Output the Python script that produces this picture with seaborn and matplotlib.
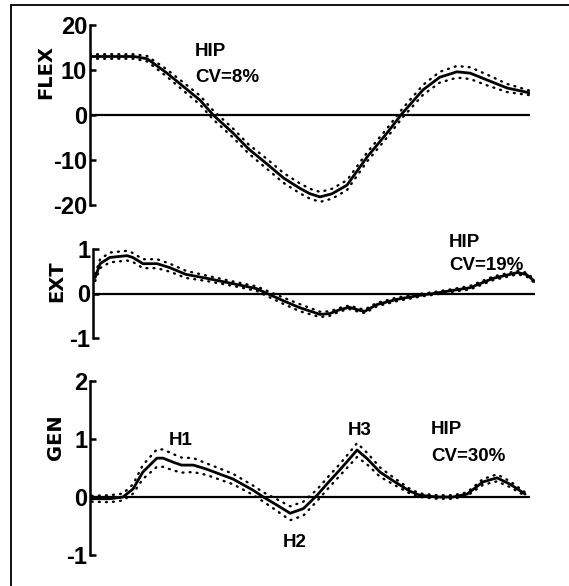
import numpy as np
import pandas as pd
import matplotlib
matplotlib.use("Agg")
import matplotlib.pyplot as plt
import seaborn as sns
from matplotlib.lines import Line2D

# % of gait cycle, hip power
flex_x = [0, 5, 10, 13, 17.5, 21, 25, 28, 32.5, 36, 40, 44, 47.7, 50, 52.3, 55, 58.4,
          63, 67.5, 71, 75.7, 79.5, 83.4, 86.4, 90.2, 94.8, 100]
flex_mean = [13, 13, 13, 12.5, 9.3, 6.5, 3.3, 0, -4, -7.5, -10.7, -14, -16.3, -17.5, -18.2,
             -17.5, -15.6, -9.3, -4, 0.4, 5.6, 8.4, 9.6, 9.3, 7.8, 6, 4.9]
flex_sd = [0.5, 0.5, 0.5, 0.6, 0.8, 0.9, 1.0, 1.0, 1.0, 1.0, 1.1, 1.1, 1.1, 1.1, 1.1,
           1.1, 1.1, 1.0, 1.0, 1.0, 1.1, 1.2, 1.3, 1.3, 1.2, 0.9, 0.5]

ext_x = [0.5, 1.6, 3.8, 7.7, 9, 11.3, 14.5, 17.4, 21, 25.8, 31.7, 37, 39.4, 43, 46.8,
         51.4, 53.6, 55.9, 58, 60.4, 61.5, 64.2, 68.8, 74, 77, 81.4, 85.3, 90.5, 96, 98, 100]
ext_mean = [0.36, 0.67, 0.81, 0.85, 0.81, 0.67, 0.67, 0.58, 0.43, 0.34, 0.22, 0.11, 0.0,
            -0.16, -0.32, -0.47, -0.45, -0.36, -0.31, -0.38, -0.4, -0.25, -0.13, -0.04,
            0.0, 0.07, 0.13, 0.34, 0.47, 0.43, 0.27]
ext_sd = [0.08, 0.1, 0.11, 0.11, 0.1, 0.1, 0.1, 0.09, 0.08, 0.06, 0.05, 0.05, 0.06,
          0.07, 0.08, 0.06, 0.05, 0.04, 0.04, 0.04, 0.04, 0.04, 0.04, 0.03, 0.03,
          0.03, 0.04, 0.04, 0.04, 0.04, 0.04]

gen_x = [0.4, 4.5, 7.5, 9.8, 12, 15.2, 16.6, 18.9, 20.8, 23.5, 26.5, 32.5, 37, 39.4,
         42.5, 45.5, 48.5, 51.6, 53.8, 56.8, 59, 60.7, 63, 65.9, 68.9, 72.7, 75, 78.9,
         82.5, 85.7, 89.3, 92.5, 95.5, 98.9]
gen_mean = [-0.03, -0.03, 0.0, 0.14, 0.43, 0.67, 0.67, 0.6, 0.55, 0.55, 0.48, 0.31, 0.12,
            0.0, -0.14, -0.28, -0.2, 0.03, 0.22, 0.47, 0.66, 0.81, 0.66, 0.43, 0.28, 0.1,
            0.03, 0.0, 0.0, 0.05, 0.26, 0.33, 0.22, 0.05]
gen_sd = [0.05, 0.06, 0.06, 0.08, 0.12, 0.15, 0.15, 0.14, 0.13, 0.12, 0.1, 0.09, 0.08,
          0.08, 0.1, 0.12, 0.12, 0.1, 0.1, 0.1, 0.11, 0.12, 0.1, 0.08, 0.06, 0.04,
          0.03, 0.03, 0.03, 0.03, 0.05, 0.06, 0.05, 0.03]

panels = [
    dict(x=flex_x, m=flex_mean, sd=flex_sd, label="FLEX", ticks=[20, 10, 0, -10, -20],
         ylim=(-20, 20), rect=[90 / 569, 1 - 205 / 586, 440 / 569, 180 / 586], lab_xy=(46, 72)),
    dict(x=ext_x, m=ext_mean, sd=ext_sd, label="EXT", ticks=[1, 0, -1],
         ylim=(-1, 1), rect=[93 / 569, 1 - 338 / 586, 442 / 569, 89 / 586], lab_xy=(57, 281)),
    dict(x=gen_x, m=gen_mean, sd=gen_sd, label="GEN", ticks=[2, 1, 0, -1],
         ylim=(-1, 2), rect=[90 / 569, 1 - 555 / 586, 440 / 569, 174 / 586], lab_xy=(55, 437)),
]

sns.set_style("white")
plt.rcParams["font.family"] = ["Liberation Sans", "DejaVu Sans"]
plt.rcParams["text.color"] = "black"
plt.rcParams["ytick.color"] = "black"

fig = plt.figure(figsize=(5.69, 5.86), dpi=100)
fig.patch.set_facecolor("white")

dots = (0, (0.4, 2.6))
axes = []
for p in panels:
    ax = fig.add_axes(p["rect"])
    df = pd.DataFrame({"x": p["x"], "m": p["m"], "sd": p["sd"]})
    df["hi"] = df["m"] + df["sd"]
    df["lo"] = df["m"] - df["sd"]
    sns.lineplot(data=df, x="x", y="m", ax=ax, color="black", lw=2.0)
    sns.lineplot(data=df, x="x", y="hi", ax=ax, color="black", lw=1.7, linestyle=dots,
                 dash_capstyle="round")
    sns.lineplot(data=df, x="x", y="lo", ax=ax, color="black", lw=1.7, linestyle=dots,
                 dash_capstyle="round")
    ax.axhline(0, color="black", lw=1.6, xmin=0, xmax=1)
    ax.set_xlim(0, 100)
    ax.set_ylim(*p["ylim"])
    ax.set_yticks(p["ticks"])
    ax.set_yticklabels([str(t) for t in p["ticks"]],
                       fontsize=17, fontweight="bold", color="black")
    ax.set_xticks([])
    ax.set_xlabel("")
    ax.set_ylabel("")
    for s in ["top", "right", "bottom"]:
        ax.spines[s].set_visible(False)
    ax.spines["left"].set_linewidth(1.8)
    ax.spines["left"].set_color("black")
    ax.tick_params(axis="y", direction="in", length=4, width=1.8, pad=2, left=True)
    ax.patch.set_alpha(0)
    fig.text(p["lab_xy"][0] / 569, 1 - p["lab_xy"][1] / 586, p["label"], rotation=90,
             ha="center", va="center", fontsize=14, fontweight="bold", family="DejaVu Sans")
    axes.append(ax)

txt = dict(fontsize=13.5, fontweight="bold", ha="left", va="center", clip_on=False)
axes[0].text(23.9, 14.0, "HIP", **txt)
axes[0].text(23.9, 8.4, "CV=8%", **txt)
axes[1].text(80.5, 1.15, "HIP", **txt)
axes[1].text(80.5, 0.63, "CV=19%", **txt)
axes[2].text(77.5, 1.16, "HIP", **txt)
axes[2].text(77.5, 0.69, "CV=30%", **txt)
lab = dict(fontsize=13.5, fontweight="bold", ha="center", va="center", clip_on=False)
axes[2].text(20.5, 0.97, "H1", **lab)
axes[2].text(46.5, -0.78, "H2", **lab)
axes[2].text(61.3, 1.14, "H3", **lab)

# frame around the figure (only top and left edges visible)
fig.add_artist(Line2D([11 / 569, 1.0], [1 - 5 / 586, 1 - 5 / 586], color="black", lw=1.3))
fig.add_artist(Line2D([11 / 569, 11 / 569], [0.0, 1 - 5 / 586], color="black", lw=1.3))

fig.savefig("out.png", dpi=100, facecolor="white")
